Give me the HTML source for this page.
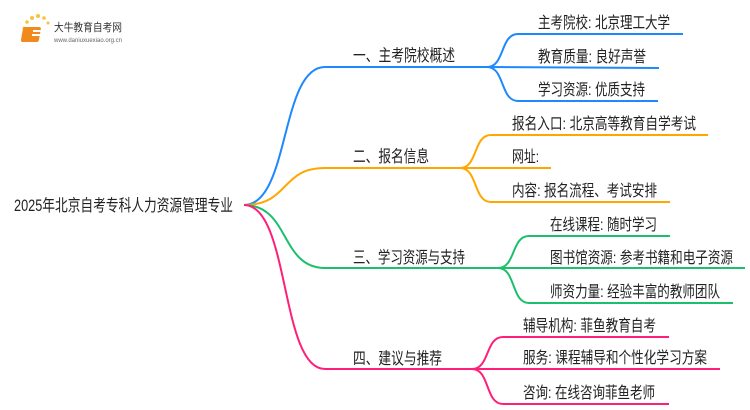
<!DOCTYPE html>
<html><head><meta charset="utf-8"><style>
html,body{margin:0;padding:0;background:#fff;width:750px;height:410px;overflow:hidden}
svg{display:block}
text{font-family:"Liberation Sans","Noto Sans CJK SC",sans-serif;fill:#222}
</style></head><body>
<svg width="750" height="410" viewBox="0 0 750 410" xmlns="http://www.w3.org/2000/svg">
<g>
<circle cx="24" cy="28" r="1.5" fill="#f9c23c"/><circle cx="27" cy="22" r="1.8" fill="#f9c23c"/><circle cx="32" cy="18" r="2" fill="#f9c23c"/><circle cx="38" cy="16" r="2" fill="#f9c23c"/><circle cx="44" cy="18" r="1.8" fill="#f9c23c"/><circle cx="48" cy="23" r="1.5" fill="#f9c23c"/>
<rect x="28" y="27" width="18" height="15" rx="2" fill="#f08a1c" transform="skewX(-10)"/>
<rect x="33" y="30" width="10" height="2" fill="#fff"/><rect x="32" y="34" width="10" height="2" fill="#fff"/>
<text x="54" y="31" font-size="11" textLength="68" lengthAdjust="spacingAndGlyphs" style="fill:#333">大牛教育自考网</text>
<text x="54" y="42" font-size="6" textLength="68" lengthAdjust="spacingAndGlyphs" style="fill:#666">www.daniuxuexiao.org.cn</text>
</g>
<g fill="none" stroke-width="2">
<g stroke="#1e88ff">
<path d="M244 205 C290 205 280 67 325 67 L487 67"/>
<path d="M487 67 C505 67 500 34 518 34 L683 34"/>
<path d="M487 67 L659 68"/>
<path d="M487 67 C505 67 500 101 518 101 L658 101"/>
</g>
<g stroke="#ffa600">
<path d="M244 205 C290 205 280 168 325 168 L460 168"/>
<path d="M460 168 C478 168 473 135 491 135 L708 135"/>
<path d="M460 168 L551 168"/>
<path d="M460 168 C478 168 473 202 491 202 L670 202"/>
</g>
<g stroke="#1cbf6c">
<path d="M244 205 C290 205 280 268 325 268 L498 268"/>
<path d="M498 268 C516 268 511 236 529 236 L670 236"/>
<path d="M498 268 L745 268"/>
<path d="M498 268 C516 268 511 303 529 303 L733 303"/>
</g>
<g stroke="#ff1f7a">
<path d="M244 205 C290 205 280 369 325 369 L472 369"/>
<path d="M472 369 C490 369 485 337 503 337 L669 337"/>
<path d="M472 369 L720 369"/>
<path d="M472 369 C490 369 485 404 503 404 L669 404"/>
</g>
</g>
<text x="14" y="211" font-size="16.5" textLength="219" lengthAdjust="spacingAndGlyphs">2025年北京自考专科人力资源管理专业</text>
<g font-size="16.5">
<text x="353" y="61" textLength="102" lengthAdjust="spacingAndGlyphs">一、主考院校概述</text>
<text x="353" y="162" textLength="76" lengthAdjust="spacingAndGlyphs">二、报名信息</text>
<text x="353" y="263" textLength="112" lengthAdjust="spacingAndGlyphs">三、学习资源与支持</text>
<text x="353" y="364" textLength="89" lengthAdjust="spacingAndGlyphs">四、建议与推荐</text>
</g>
<g font-size="16">
<text x="538" y="28" textLength="132" lengthAdjust="spacingAndGlyphs">主考院校: 北京理工大学</text>
<text x="538" y="62" textLength="108" lengthAdjust="spacingAndGlyphs">教育质量: 良好声誉</text>
<text x="538" y="95" textLength="107" lengthAdjust="spacingAndGlyphs">学习资源: 优质支持</text>
<text x="512" y="129" textLength="184" lengthAdjust="spacingAndGlyphs">报名入口: 北京高等教育自学考试</text>
<text x="512" y="162" textLength="27" lengthAdjust="spacingAndGlyphs">网址:</text>
<text x="512" y="196" textLength="145" lengthAdjust="spacingAndGlyphs">内容: 报名流程、考试安排</text>
<text x="550" y="230" textLength="107" lengthAdjust="spacingAndGlyphs">在线课程: 随时学习</text>
<text x="550" y="263" textLength="183" lengthAdjust="spacingAndGlyphs">图书馆资源: 参考书籍和电子资源</text>
<text x="550" y="297" textLength="170" lengthAdjust="spacingAndGlyphs">师资力量: 经验丰富的教师团队</text>
<text x="523" y="331" textLength="133" lengthAdjust="spacingAndGlyphs">辅导机构: 菲鱼教育自考</text>
<text x="523" y="363" textLength="184" lengthAdjust="spacingAndGlyphs">服务: 课程辅导和个性化学习方案</text>
<text x="523" y="398" textLength="132" lengthAdjust="spacingAndGlyphs">咨询: 在线咨询菲鱼老师</text>
</g>
</svg>
</body></html>
